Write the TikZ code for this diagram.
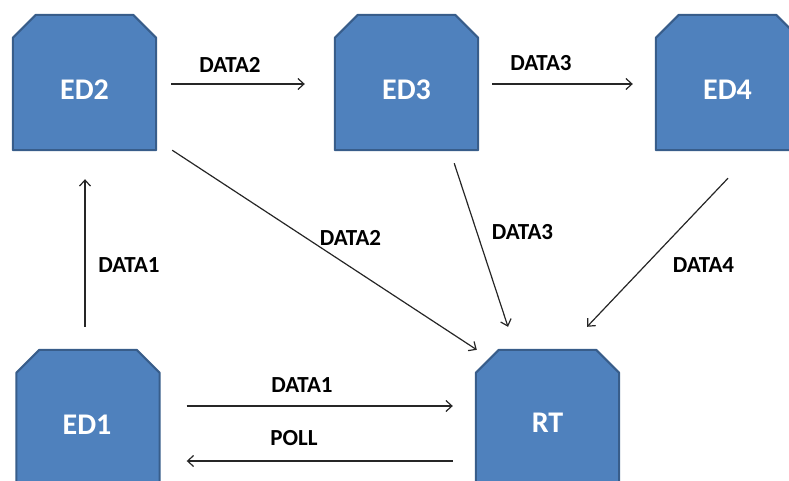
\documentclass[tikz,border=0pt]{standalone}
\usepackage{fontspec}
\setmainfont{Carlito}
\usetikzlibrary{arrows.meta,calc}
\definecolor{devfill}{HTML}{4F81BD}
\definecolor{devedge}{HTML}{385D8A}
\tikzset{
  dev/.style={rectangle, minimum width=143pt, minimum height=135pt, inner sep=0pt, draw=none},
  devname/.style={text=white, font=\bfseries\fontsize{30}{30}\selectfont, inner sep=0pt},
  msg/.style={font=\bfseries\fontsize{23}{23}\selectfont, inner sep=0pt},
  link/.style={line width=1.2pt, draw=black!85, -{Straight Barb[length=6pt,width=11pt]}},
  devbody/.style={fill=devfill, draw=devedge, line width=2pt, line join=round},
}
% device outline: rectangle with the two upper corners cut off
\newcommand\devshape[1]{%
  \path[devbody] ($(#1.north west)+(0,23)$) -- ($(#1.north west)+(23,0)$)
    -- ($(#1.north east)+(-23,0)$) -- ($(#1.north east)+(0,23)$)
    -- (#1.south east) -- (#1.south west) -- cycle;}
\begin{document}
\begin{tikzpicture}[x=1pt,y=-1pt]
\useasboundingbox (0,0) rectangle (789,480);
\clip (0,0) rectangle (789,480);

% device frames
\node[dev] (ED2) at (84.5,82.5) {};
\node[dev] (ED3) at (406.5,82.5) {};
\node[dev] (ED4) at (727.5,82.5) {};
\node[dev] (ED1) at (88,417.5) {};
\node[dev] (RT)  at (547.5,417.5) {};
\foreach \d in {ED1,ED2,ED3,ED4,RT} {\devshape{\d}}

% device names
\node[devname] (ED2n) at ($(ED2.center)+(0,7)$) {ED2};
\node[devname] (ED3n) at ($(ED3.center)+(0,7)$) {ED3};
\node[devname] (ED4n) at ($(ED4.center)+(0,7)$) {ED4};
\node[devname] (ED1n) at ($(ED1.center)+(-1,7)$) {ED1};
\node[devname] (RTn)  at ($(RT.center)+(0,5.5)$) {RT};

% messages between devices
\draw[link] ($(ED2.east)+(15,1.5)$) -- ($(ED3.west)+(-30,1.5)$);
\draw[link] ($(ED3.east)+(14,1.5)$) -- ($(ED4.west)+(-23,1.5)$);
\draw[link] ($(ED1.north)+(-3,-23)$) -- ($(ED2.south)+(0.5,29)$);
\draw[link] ($(ED2.south east)+(16,0)$) -- ($(RT.north west)+(1,0)$);
\draw[link] ($(ED3.south east)+(-24,13)$) -- ($(RT.north)+(-39.5,-23)$);
\draw[link] ($(ED4.south)+(0.5,28)$) -- ($(RT.north)+(39.5,-23)$);
\draw[link] ($(ED1.east)+(27,-11.5)$) -- ($(RT.west)+(-23,-11.5)$);
\draw[link] ($(RT.west)+(-23,43.5)$) -- ($(ED1.east)+(27,43.5)$);

% message labels
\node[msg] (l1) at (230,65) {DATA2};
\node[msg] (l2) at (541,63) {DATA3};
\node[msg] (l3) at (129,265.5) {DATA1};
\node[msg] (l4) at (350.5,238) {DATA2};
\node[msg] (l5) at (522.5,232) {DATA3};
\node[msg] (l6) at (703.5,265) {DATA4};
\node[msg] (l7) at (302,385) {DATA1};
\node[msg] (l8) at (294,438) {POLL};
\end{tikzpicture}
\end{document}
